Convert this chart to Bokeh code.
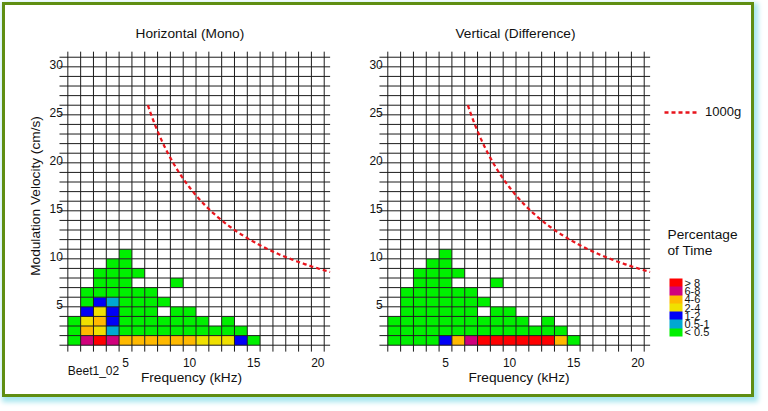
import numpy as np
from bokeh.plotting import figure
from bokeh.layouts import row
from bokeh.models import (Range1d, FixedTicker, Label, Legend, LegendItem,
                          ColorBar, LinearColorMapper, AllLabels)
from bokeh.embed import file_html
from bokeh.resources import INLINE

FONT = "Liberation Sans"

# ---------------- data ----------------
freq_edges = list(range(0, 21))          # kHz bin edges (1 kHz bins)
vel_edges = list(range(0, 31))           # cm/s bin edges (1 cm/s bins)
freq_tick_labels = ["5", "10", "15", "20"]
vel_tick_labels = ["5", "10", "15", "20", "25", "30"]

class_labels = ["< 0.5", "0.5-1", "1-2", "2-4", "4-6", "6-8", "> 8"]
class_colors = ["#00f000", "#00a8d2", "#0000f6", "#f0e000", "#ffb900", "#d0007c", "#ff0000"]

# class index per cell (0 = empty), one list per velocity bin, bottom row first
horizontal_rows = [
    [1, 6, 7, 6, 5, 5, 5, 5, 5, 5, 4, 4, 4, 3, 1],
    [1, 5, 4, 2, 1, 1, 1, 1, 1, 1, 1, 1, 1, 1],
    [1, 4, 5, 3, 1, 1, 1, 1, 1, 1, 1, 0, 1],
    [0, 3, 4, 3, 1, 1, 1, 0, 1, 1],
    [0, 1, 3, 2, 1, 1, 1, 1],
    [0, 1, 1, 1, 1, 1, 1],
    [0, 0, 1, 1, 1, 0, 0, 0, 1],
    [0, 0, 1, 1, 1, 1],
    [0, 0, 0, 1, 1],
    [0, 0, 0, 0, 1],
]
vertical_rows = [
    [1, 1, 1, 1, 3, 5, 6, 7, 7, 7, 7, 7, 7, 5, 1],
    [1, 1, 1, 1, 1, 1, 1, 1, 1, 1, 1, 1, 1, 1],
    [1, 1, 1, 1, 1, 1, 1, 1, 1, 1, 1, 0, 1],
    [0, 1, 1, 1, 1, 1, 1, 0, 1, 1],
    [0, 1, 1, 1, 1, 1, 1, 1],
    [0, 1, 1, 1, 1, 1, 1],
    [0, 0, 1, 1, 1, 0, 0, 0, 1],
    [0, 0, 1, 1, 1, 1],
    [0, 0, 0, 1, 1],
    [0, 0, 0, 0, 1],
]

accel_g = 1000            # constant-acceleration reference line
curve_max_velocity = 25   # cm/s, where the reference line starts
g = 9.81

# 1000 g line: v = a / (2 pi f)
f_start = accel_g * g * 100 / (2 * np.pi * 1000 * curve_max_velocity)
curve_f = np.linspace(f_start, 20.47, 200)
curve_v = accel_g * g * 100 / (2 * np.pi * curve_f * 1000)

CURVE_COLOR = "#e8141c"
GRID_COLOR = "#1c1c1c"
TXT = "#111111"
FIG_H = 389
MB_TOP = 45
MB_BOTTOM = 6
FRAME_H = FIG_H - MB_TOP - MB_BOTTOM


def panel(title, rows, width, left, right, x_start, xbounds, title_offset, ylabel=None):
    p = figure(width=width, height=FIG_H,
               x_range=Range1d(x_start, 20.49), y_range=Range1d(-4.51, 30.7),
               output_backend="svg", toolbar_location=None,
               min_border_left=left, min_border_right=right,
               min_border_top=MB_TOP, min_border_bottom=MB_BOTTOM, title=title)
    p.outline_line_color = None
    p.grid.visible = False
    p.background_fill_color = "white"
    p.border_fill_color = "white"

    xs, ys, cs = [], [], []
    for j, r in enumerate(rows):
        for i, c in enumerate(r):
            if c:
                xs.append(freq_edges[i] + 0.5)
                ys.append(vel_edges[j] + 0.5)
                cs.append(class_colors[c - 1])
    p.rect(x=xs, y=ys, width=1, height=1, fill_color=cs, line_color=None)

    p.segment(x0=freq_edges, y0=[-0.67] * len(freq_edges), x1=freq_edges,
              y1=[30.58] * len(freq_edges), line_color=GRID_COLOR, line_width=1)
    p.segment(x0=[-0.65] * len(vel_edges), y0=vel_edges, x1=[20.47] * len(vel_edges),
              y1=vel_edges, line_color=GRID_COLOR, line_width=1)

    p.line(curve_f, curve_v, line_color=CURVE_COLOR, line_width=2.3, line_dash="4 3")

    xt = [int(s) - 0.5 for s in freq_tick_labels]
    yt = [int(s) - 0.8 for s in vel_tick_labels]
    p.xaxis.ticker = FixedTicker(ticks=xt)
    p.xaxis.major_label_overrides = {t: s for t, s in zip(xt, freq_tick_labels)}
    p.yaxis.ticker = FixedTicker(ticks=yt)
    p.yaxis.major_label_overrides = {t: s for t, s in zip(yt, vel_tick_labels)}
    for ax in (p.xaxis[0], p.yaxis[0]):
        ax.axis_line_color = None
        ax.major_tick_line_color = None
        ax.minor_tick_line_color = None
        ax.major_tick_out = 0
        ax.major_tick_in = 0
        ax.major_label_text_font = FONT
        ax.major_label_text_font_size = "12px"
        ax.major_label_text_color = TXT
        ax.axis_label_text_font = FONT
        ax.axis_label_text_font_size = "13.7px"
        ax.axis_label_text_font_style = "normal"
        ax.axis_label_text_color = TXT
    p.xaxis.fixed_location = -0.67
    p.yaxis.fixed_location = 0
    p.xaxis.bounds = xbounds
    p.yaxis.bounds = (0.5, 30.6)
    p.xaxis.major_label_standoff = 6
    p.yaxis.major_label_standoff = 5
    p.xaxis.axis_label = "Frequency (kHz)"
    p.xaxis.axis_label_standoff = 0
    if ylabel:
        p.yaxis.axis_label = ylabel
        p.yaxis.axis_label_standoff = 3

    p.title.align = "left"
    p.title.offset = title_offset
    p.title.text_font = FONT
    p.title.text_font_size = "13.7px"
    p.title.text_font_style = "normal"
    p.title.text_color = TXT
    p.title.standoff = 19
    return p


p1 = panel("Horizontal (Mono)", horizontal_rows, 334, 9, 9, -4.16, (-0.7, 20.0), 121,
           ylabel="Modulation Velocity (cm/s)")
p1.add_layout(Label(x=freq_edges[0], y=-2.73, text="Beet1_02", text_font=FONT,
                    text_font_size="12px", text_baseline="middle", text_color=TXT))

p2 = panel("Vertical (Difference)", vertical_rows, 320, 28, 9, -1.583, (0.0, 21.5), 88)

# legend area (data units == pixels from the frame's bottom-left)
lf = figure(width=92, height=FIG_H, x_range=Range1d(0, 92), y_range=Range1d(0, FRAME_H),
            output_backend="svg", toolbar_location=None,
            x_axis_type=None, y_axis_type=None,
            min_border_left=0, min_border_right=0,
            min_border_top=MB_TOP, min_border_bottom=MB_BOTTOM)
lf.outline_line_color = None
lf.grid.visible = False
lf.border_fill_color = "white"
dummy = lf.line(x=[-20, -10], y=[-20, -10], line_color=CURVE_COLOR, line_width=2.3,
                line_dash="4 3")
leg = Legend(items=[LegendItem(label="%dg" % accel_g, renderers=[dummy])],
             location=(5, 269), padding=0, margin=0, spacing=0,
             glyph_width=33, glyph_height=14, label_height=14, label_standoff=8,
             label_text_font=FONT, label_text_font_size="13px",
             label_text_color=TXT,
             background_fill_alpha=0, border_line_color=None)
lf.add_layout(leg)

lf.add_layout(Label(x=8, y=154, text="Percentage", text_font=FONT, text_font_size="13.7px",
                    text_baseline="middle", text_color=TXT))
lf.add_layout(Label(x=8, y=138.3, text="of Time", text_font=FONT, text_font_size="13.7px",
                    text_baseline="middle", text_color=TXT))

mapper = LinearColorMapper(palette=class_colors, low=0, high=len(class_colors))
cticks = [i + 0.5 for i in range(len(class_colors))]
cb = ColorBar(color_mapper=mapper, ticker=FixedTicker(ticks=cticks),
              major_label_overrides={t: s for t, s in zip(cticks, class_labels)},
              major_label_policy=AllLabels(),
              width=13, height=58, location=(10, 52), padding=0, margin=0,
              major_label_text_font=FONT, major_label_text_font_size="11px",
              major_label_text_color=TXT, label_standoff=2,
              major_tick_line_color=None, minor_tick_line_color=None,
              bar_line_color=None, background_fill_alpha=0, border_line_color=None)
lf.add_layout(cb)

layout = row(p1, p2, lf, width=752, height=395, styles={
    "border": "3px solid #5f8e12",
    "box-shadow": "2px 3px 5px 2px #a6e6ee",
    "background-color": "white",
    "margin-left": "2px",
    "margin-top": "2px",
})

open("out.html", "w").write(file_html(layout, INLINE))
